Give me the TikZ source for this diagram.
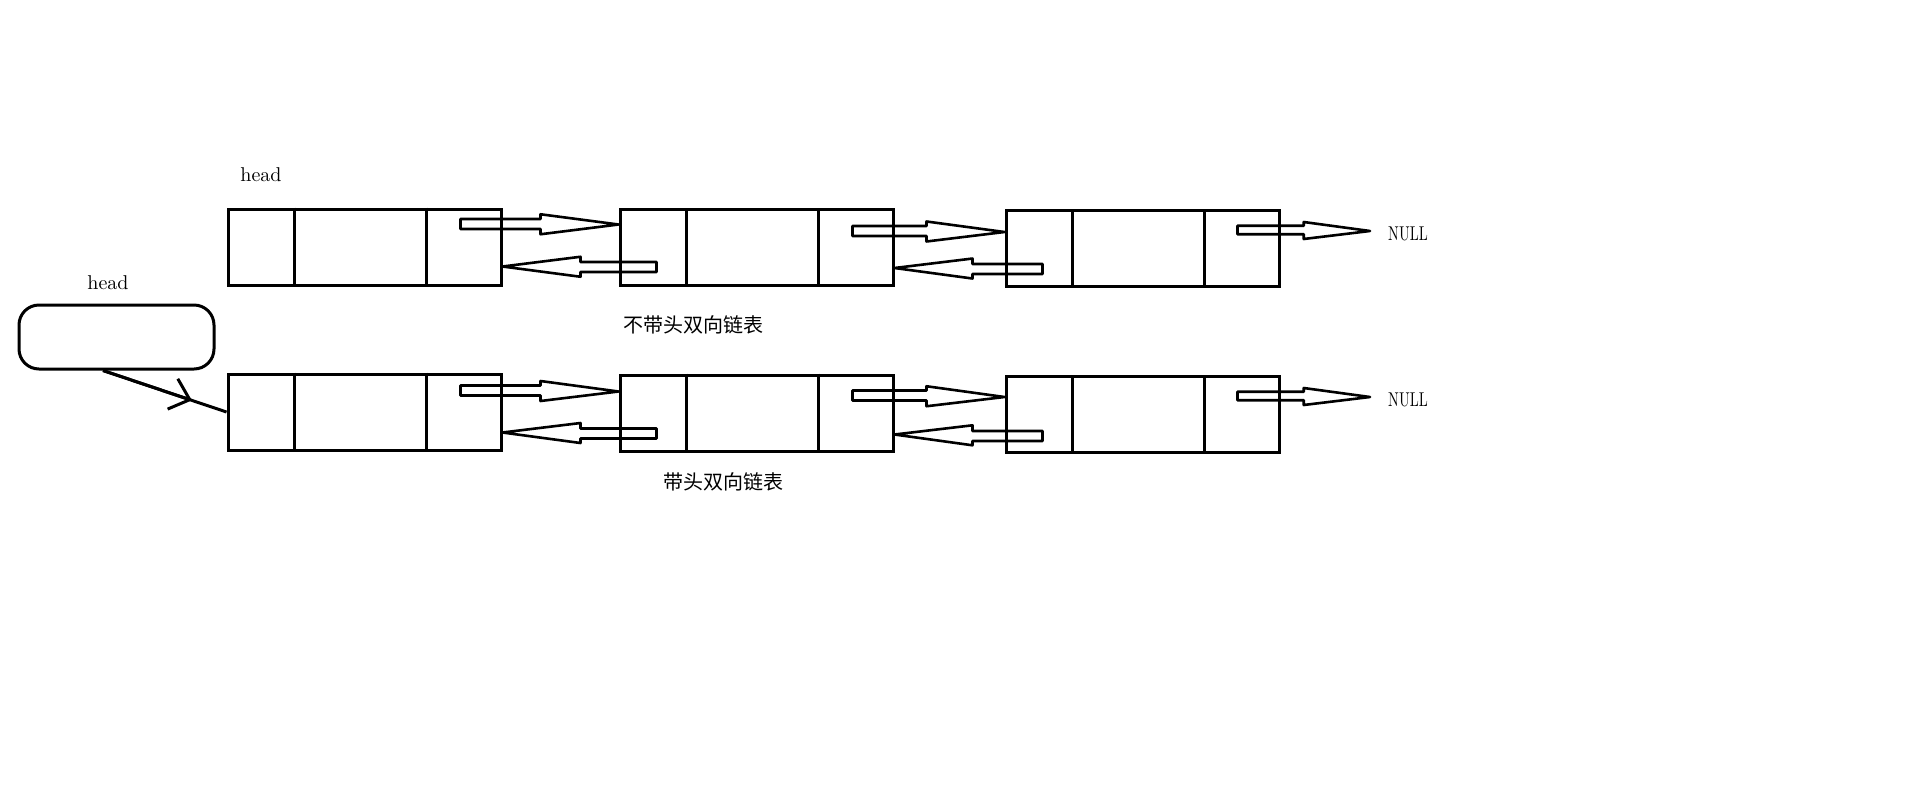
\documentclass[tikz,border=0pt]{standalone}
\usepackage{fontspec}
\newfontfamily\cjk{Noto Sans CJK SC}
\usetikzlibrary{arrows.meta,calc}

\tikzset{
  cell/.style={draw,line width=1.5pt,minimum width=136.5pt,minimum height=38pt,inner sep=0pt},
  link/.style={line width=1.3pt,line join=round},
}
% hollow block arrow: [scale]{tail}{tip}
\newcommand\hollowarrow[3][1]{%
  \draw[link] let \p1=(#2), \p2=(#3), \p3=($(#3)!#1*39pt!(#2)$) in
    (\x1,\y1+#1*2.5pt) -- (\x3,\y1+#1*2.5pt) -- (\x3,\y3+#1*5pt) -- (\x2,\y2)
    -- (\x3,\y3-#1*5pt) -- (\x3,\y1-#1*2.5pt) -- (\x1,\y1-#1*2.5pt) -- cycle;}
% next and prev links between two cells
\newcommand\dlinks[4]{%
  \coordinate (#1nx) at ([xshift=-21pt,yshift=-#3pt]#1.north east);
  \coordinate (#2in) at ([yshift=-#3pt]#2.north west);
  \coordinate (#2pv) at ([xshift=19pt,yshift=-#4pt]#2.north west);
  \coordinate (#1in) at ([yshift=-#4pt]#1.north east);
  \hollowarrow{#1nx}{#2in}
  \hollowarrow{#2pv}{#1in}}

\begin{document}
\begin{tikzpicture}[x=0.5pt,y=-0.5pt]
  \useasboundingbox (0,0) rectangle (1914,809);
  % list without head node
  \node[cell] (a1) at (364.5,247) {};
  \node[cell] (a2) at (756.5,247.5) {};
  \node[cell] (a3) at (1142.5,248.5) {};
  % list with head node
  \node[cell] (b1) at (364.5,412) {};
  \node[cell] (b2) at (756.5,413) {};
  \node[cell] (b3) at (1142.5,414.5) {};
  \foreach \n in {a1,a2,a3,b1,b2,b3}
    \draw[line width=1.5pt] ([xshift=34pt]\n.north west) -- ([xshift=34pt]\n.south west)
      ([xshift=100pt]\n.north west) -- ([xshift=100pt]\n.south west);
  \foreach \l/\r/\f/\b in {a1/a2/8.25/29.5,a2/a3/11.5/30,b1/b2/9/30,b2/b3/11/30.5}
    \dlinks{\l}{\r}{\f}{\b};
  % tails to NULL
  \node[xscale=.72] (nullA) at (1408,234) {NULL};
  \node[xscale=.72] (nullB) at (1408,400) {NULL};
  \coordinate (a3nx) at ([xshift=-21.5pt,yshift=-10.5pt]a3.north east);
  \coordinate (a3z) at (1370,231);
  \coordinate (b3nx) at ([xshift=-21.5pt,yshift=-10.5pt]b3.north east);
  \coordinate (b3z) at (1370,397);
  \hollowarrow[.85]{a3nx}{a3z}
  \hollowarrow[.85]{b3nx}{b3z}
  % head pointers
  \node (headA) at (261,175) {head};
  \node (headB) at (108,283) {head};
  \node[draw,line width=1.5pt,rounded corners=10pt,minimum width=97.5pt,minimum height=32pt] (hd) at (116.5,337) {};
  \coordinate (hdout) at ([xshift=-6.75pt]hd.south);
  \draw[line width=1.5pt] (hdout) -- (b1.west);
  \draw[line width=1.5pt,-{Straight Barb[length=9pt,width=16pt,line width=1.5pt]}]
    (hdout) -- ($(hdout)!.72!(b1.west)$);
  \node[font=\cjk] (capA) at (693,325) {不带头双向链表};
  \node[font=\cjk] (capB) at (723,482) {带头双向链表};
\end{tikzpicture}
\end{document}
